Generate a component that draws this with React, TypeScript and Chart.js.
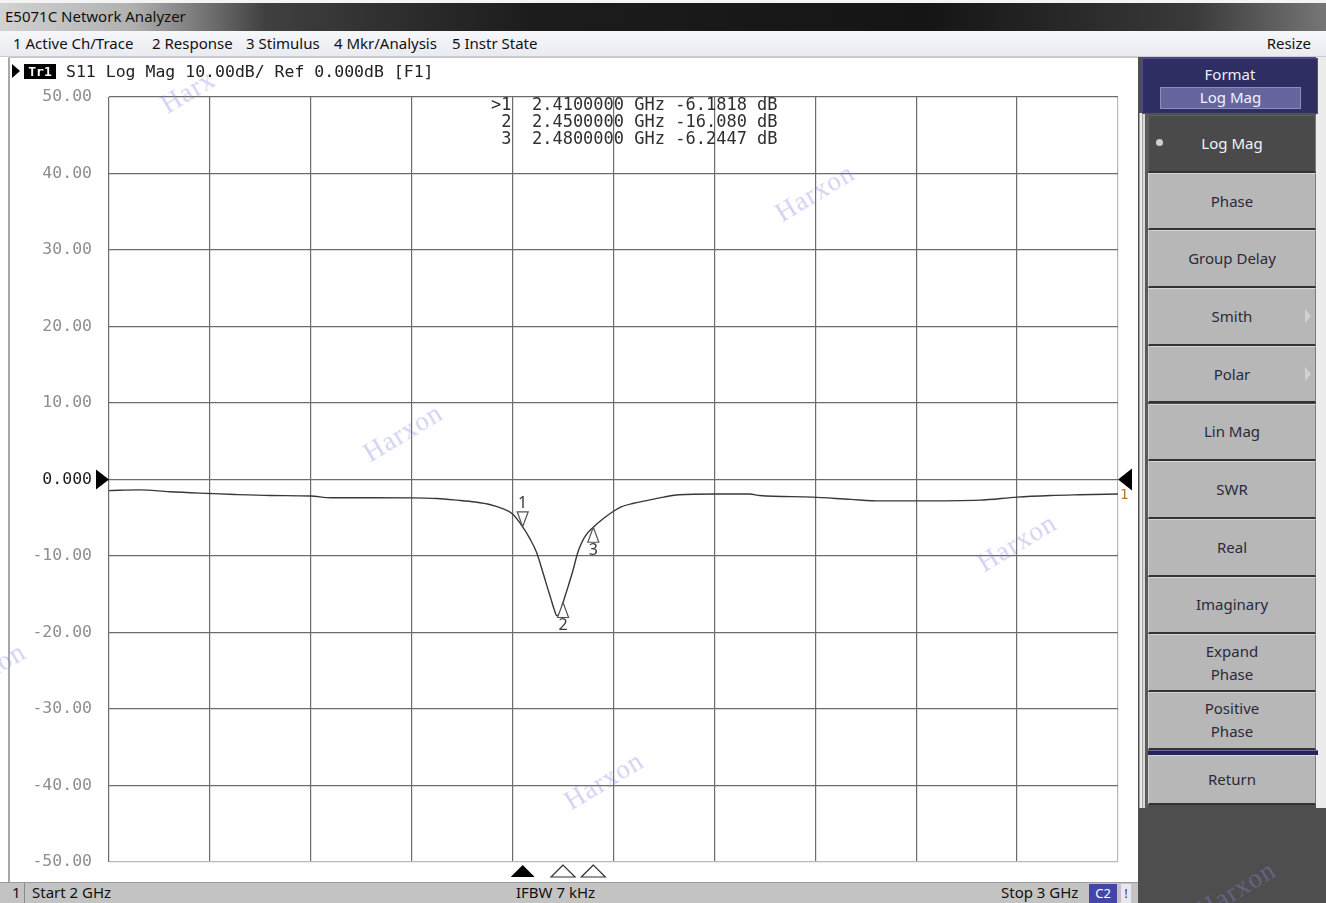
import React, { useEffect, useRef } from "react";
import { Chart, registerables } from "chart.js";

Chart.register(...registerables);

// ---- data ----
const freqGHz = [
  2.0, 2.01, 2.03, 2.06, 2.1, 2.125, 2.16, 2.2, 2.22, 2.26, 2.3, 2.325, 2.345, 2.363, 2.378, 2.39, 2.4,
  2.41, 2.417, 2.424, 2.429, 2.434, 2.438, 2.441, 2.444, 2.447, 2.45, 2.455, 2.46, 2.464, 2.467, 2.472,
  2.48, 2.49, 2.5, 2.507, 2.52, 2.535, 2.55, 2.565, 2.6, 2.635, 2.645, 2.697, 2.735, 2.765, 2.8, 2.863,
  2.9, 2.933, 2.962, 3.0,
];
const s11dB = [
  -1.45, -1.4, -1.35, -1.6, -1.83, -1.96, -2.09, -2.16, -2.39, -2.39, -2.4, -2.48, -2.7, -2.95, -3.3,
  -3.8, -4.5, -6.18, -7.7, -9.6, -11.7, -13.9, -15.6, -16.9, -17.8, -17.4, -16.08, -14.0, -11.8, -9.8,
  -8.7, -7.4, -6.24, -5.1, -4.15, -3.6, -3.1, -2.7, -2.3, -2.0, -1.9, -1.9, -2.1, -2.3, -2.6, -2.8,
  -2.8, -2.7, -2.3, -2.1, -2.0, -1.9,
];
const yMin = -50;
const yMax = 50;
const yStep = 10;
const startGHz = 2;
const stopGHz = 3;
const xStep = 0.1;

const markerNumbers = [1, 2, 3];
const markerFreqGHz = [2.41, 2.45, 2.48];
const markerValueDb = [-6.1818, -16.08, -6.2447];
const markerValueText = ["-6.1818", "-16.080", "-6.2447"];
const activeMarker = 1;

const menuItems = ["1 Active Ch/Trace", "2 Response", "3 Stimulus", "4 Mkr/Analysis", "5 Instr State"];
const softkeys = [
  "Log Mag", "Phase", "Group Delay", "Smith", "Polar", "Lin Mag", "SWR", "Real", "Imaginary",
  "Expand\nPhase", "Positive\nPhase", "Return",
];
const softkeysWithArrow = ["Smith", "Polar"];
const selectedSoftkey = "Log Mag";

// layout constants (pixels)
const MENU_LEFT = [13, 152, 246, 334, 452];

const MONO = "'DejaVu Sans Mono', 'Liberation Mono', monospace";
const SANS = "'Noto Sans', 'DejaVu Sans', sans-serif";

const overlayPlugin = {
  id: "vnaOverlay",
  afterDatasetsDraw(chart: any) {
    const { ctx, chartArea: a, scales } = chart;
    const x = scales.x;
    const y = scales.y;
    ctx.save();

    // reference level triangles
    const y0 = y.getPixelForValue(0);
    ctx.fillStyle = "#000";
    ctx.beginPath();
    ctx.moveTo(a.left, y0);
    ctx.lineTo(a.left - 13, y0 - 10);
    ctx.lineTo(a.left - 13, y0 + 10);
    ctx.closePath();
    ctx.fill();
    ctx.beginPath();
    ctx.moveTo(a.right, y0);
    ctx.lineTo(a.right + 14, y0 - 11);
    ctx.lineTo(a.right + 14, y0 + 11);
    ctx.closePath();
    ctx.fill();

    // trace number at the end of the trace
    ctx.fillStyle = "#b8742e";
    ctx.font = `14px ${MONO}`;
    ctx.textAlign = "left";
    ctx.textBaseline = "middle";
    ctx.fillText("1", a.right + 2, y.getPixelForValue(s11dB[s11dB.length - 1]) + 1);

    markerFreqGHz.forEach((f, i) => {
      const px = x.getPixelForValue(f);
      const py = y.getPixelForValue(markerValueDb[i]);
      const dir = i === 0 ? -1 : 1;
      // marker on the trace
      ctx.beginPath();
      ctx.moveTo(px, py);
      ctx.lineTo(px - 5.5, py + dir * 15);
      ctx.lineTo(px + 5.5, py + dir * 15);
      ctx.closePath();
      ctx.fillStyle = "#fff";
      ctx.fill();
      ctx.strokeStyle = "#555";
      ctx.lineWidth = 1.2;
      ctx.stroke();
      ctx.fillStyle = "#3a3a3a";
      ctx.font = `16px ${SANS}`;
      ctx.textAlign = "center";
      ctx.textBaseline = "middle";
      ctx.fillText(String(markerNumbers[i]), px, py + dir * 23);

      // stimulus indicator below the grid
      const by = a.bottom + 3;
      ctx.beginPath();
      ctx.moveTo(px, by);
      ctx.lineTo(px - 12, by + 12);
      ctx.lineTo(px + 12, by + 12);
      ctx.closePath();
      if (markerNumbers[i] === activeMarker) {
        ctx.fillStyle = "#000";
        ctx.fill();
      } else {
        ctx.fillStyle = "#fff";
        ctx.fill();
        ctx.strokeStyle = "#333";
        ctx.lineWidth = 1.2;
        ctx.stroke();
      }

      // readout
      const line =
        `${markerNumbers[i] === activeMarker ? ">" : " "}${markerNumbers[i]}  ` +
        `${f.toFixed(7)} GHz ${markerValueText[i]} dB`;
      ctx.font = `17px ${MONO}`;
      ctx.textAlign = "left";
      ctx.fillStyle = "#2f2f2f";
      ctx.fillText(line, a.left + a.width * 0.3786, a.top + 9 + i * 17);
    });
    ctx.restore();
  },
};

function Watermark({ left, top, text = "Harxon" }: { left: number; top: number; text?: string }) {
  return (
    <span
      style={{
        position: "absolute",
        left,
        top,
        transform: "translate(-50%, -50%) rotate(-31deg)",
        font: "27px 'Liberation Serif', 'DejaVu Serif', serif",
        letterSpacing: 1,
        color: "rgba(135,135,225,0.38)",
        pointerEvents: "none",
        whiteSpace: "nowrap",
        zIndex: 5,
      }}
    >
      {text}
    </span>
  );
}

export default function App() {
  const canvasRef = useRef<HTMLCanvasElement | null>(null);

  useEffect(() => {
    if (!canvasRef.current) return;
    const chart = new Chart(canvasRef.current, {
      type: "line",
      data: {
        datasets: [
          {
            label: "S11",
            data: freqGHz.map((f, i) => ({ x: f, y: s11dB[i] })),
            borderColor: "#383838",
            borderWidth: 1.4,
            pointRadius: 0,
            cubicInterpolationMode: "monotone",
            fill: false,
          },
        ],
      },
      options: {
        responsive: false,
        animation: false,
        devicePixelRatio: 1,
        layout: { padding: { top: 39, right: 22, bottom: 20, left: 0 } },
        plugins: { legend: { display: false }, tooltip: { enabled: false } },
        scales: {
          x: {
            type: "linear",
            min: startGHz,
            max: stopGHz,
            ticks: { display: false, stepSize: xStep },
            border: { display: false },
            grid: {
              drawTicks: false,
              lineWidth: 1.2,
              color: (c: any) =>
                c.tick && Math.abs(c.tick.value - stopGHz) < 1e-6 ? "#b8b8b8" : "#6c6c6c",
            },
            afterFit: (s: any) => {
              s.height = 0;
            },
          },
          y: {
            min: yMin,
            max: yMax,
            ticks: {
              stepSize: yStep,
              padding: 0,
              font: { family: MONO, size: 16.5 },
              color: (c: any) => (c.tick && c.tick.value === 0 ? "#1c1c1c" : "#8e8e8e"),
              callback: (v: any) => (Number(v) === 0 ? "0.000" : Number(v).toFixed(2)),
            },
            border: { display: false },
            grid: {
              drawTicks: true,
              tickLength: 17,
              tickColor: "rgba(0,0,0,0)",
              lineWidth: 1.2,
              color: (c: any) => (c.tick && c.tick.value === yMin ? "#b8b8b8" : "#6c6c6c"),
            },
            afterFit: (s: any) => {
              s.width = 99;
            },
          },
        },
      },
      plugins: [overlayPlugin],
    } as any);
    return () => chart.destroy();
  }, []);

  const btnTop = 115;
  const btnH = 57.7;

  return (
    <div
      style={{
        position: "fixed",
        left: 0,
        top: 0,
        width: 1326,
        height: 903,
        overflow: "hidden",
        background: "#fff",
        fontFamily: SANS,
      }}
    >
      {/* title bar */}
      <div
        style={{
          position: "absolute",
          left: 0,
          top: 0,
          width: 1326,
          height: 31,
          background:
            "linear-gradient(to right, #d2d2d2 0%, #b0b0b0 10%, #404040 20%, #1c1c1c 40%, #151515 70%, #3a3a3a 90%, #767676 100%)",
          borderTop: "3px solid #f4f4f4",
          boxSizing: "border-box",
        }}
      >
        <span style={{ position: "absolute", left: 5, top: 3, fontSize: 15, color: "#111" }}>
          E5071C Network Analyzer
        </span>
      </div>

      {/* menu bar */}
      <div
        style={{
          position: "absolute",
          left: 0,
          top: 31,
          width: 1326,
          height: 26,
          background: "linear-gradient(#f6f7fa, #e9ebf1)",
          borderBottom: "1px solid #c9ccd4",
          boxSizing: "border-box",
          fontSize: 15,
          color: "#111",
        }}
      >
        {menuItems.map((m, i) => (
          <span key={m} style={{ position: "absolute", left: MENU_LEFT[i], top: 2, whiteSpace: "nowrap" }}>
            {m}
          </span>
        ))}
        <span style={{ position: "absolute", right: 15, top: 2 }}>Resize</span>
      </div>

      {/* white display area */}
      <div style={{ position: "absolute", left: 0, top: 57, width: 1140, height: 825, background: "#fff" }} />
      <div style={{ position: "absolute", left: 8, top: 57, width: 2, height: 825, background: "#a8a8a8" }} />
      <div style={{ position: "absolute", left: 8, top: 57, width: 1132, height: 1, background: "#c4c4c4" }} />

      <canvas
        ref={canvasRef}
        width={1130}
        height={824}
        style={{ position: "absolute", left: 10, top: 58, width: 1130, height: 824 }}
      />

      {/* trace header */}
      <div style={{ position: "absolute", left: 12, top: 62, height: 18, display: "flex", alignItems: "center", zIndex: 4 }}>
        <span
          style={{
            width: 0,
            height: 0,
            borderTop: "7px solid transparent",
            borderBottom: "7px solid transparent",
            borderLeft: "8px solid #000",
            marginRight: 4,
          }}
        />
        <span
          style={{
            background: "#000",
            color: "#fff",
            font: `bold 13px ${MONO}`,
            padding: "0 3px",
            height: 15,
            lineHeight: "15px",
            width: 26,
            textAlign: "center",
          }}
        >
          Tr1
        </span>
        <span style={{ font: `16.5px ${MONO}`, color: "#222", marginLeft: 10, whiteSpace: "pre" }}>
          S11 Log Mag 10.00dB/ Ref 0.000dB [F1]
        </span>
      </div>

      {/* status bar */}
      <div
        style={{
          position: "absolute",
          left: 0,
          top: 882,
          width: 1140,
          height: 21,
          background: "#c3c3c3",
          borderTop: "1px solid #9a9a9a",
          boxSizing: "border-box",
          fontSize: 15,
          color: "#111",
        }}
      >
        <span style={{ position: "absolute", left: 12, top: -1 }}>1</span>
        <div style={{ position: "absolute", left: 24, top: 0, width: 1, height: 20, background: "#8a8a8a" }} />
        <span style={{ position: "absolute", left: 32, top: -1, whiteSpace: "nowrap" }}>Start 2 GHz</span>
        <span style={{ position: "absolute", left: 516, top: -1, whiteSpace: "nowrap" }}>IFBW 7 kHz</span>
        <span style={{ position: "absolute", left: 1001, top: -1, whiteSpace: "nowrap" }}>Stop 3 GHz</span>
        <span
          style={{
            position: "absolute",
            left: 1089,
            top: 1,
            width: 28,
            height: 19,
            background: "#4545a6",
            color: "#fff",
            textAlign: "center",
            lineHeight: "19px",
            fontSize: 13,
          }}
        >
          C2
        </span>
        <span
          style={{
            position: "absolute",
            left: 1121,
            top: 1,
            width: 10,
            height: 19,
            background: "#e8e8ee",
            color: "#4a2a8a",
            textAlign: "center",
            lineHeight: "19px",
            fontSize: 13,
          }}
        >
          !
        </span>
      </div>

      {/* right softkey panel */}
      <div style={{ position: "absolute", left: 1138, top: 57, width: 188, height: 846, background: "#4e4e4e" }} />
      <div style={{ position: "absolute", left: 1316, top: 57, width: 10, height: 751, background: "#ececec" }} />
      <div
        style={{
          position: "absolute",
          left: 1139,
          top: 113,
          width: 9,
          height: 695,
          background:
            "linear-gradient(to right, #9c9c9c 0 1px, #ececec 1px 3px, #a2a2a2 3px 4px, #dadada 4px 6px, #5a5a5a 6px 9px)",
        }}
      />
      <div
        style={{
          position: "absolute",
          left: 1142,
          top: 58,
          width: 176,
          height: 56,
          background: "#2e2e63",
          border: "1px solid #4b4b86",
          boxSizing: "border-box",
        }}
      >
        <div style={{ position: "absolute", left: 0, right: 0, top: 5, textAlign: "center", color: "#ececf4", fontSize: 15 }}>
          Format
        </div>
        <div
          style={{
            position: "absolute",
            left: 17,
            top: 28,
            width: 141,
            height: 22,
            background: "#66669f",
            border: "1px solid #8d8dc4",
            boxSizing: "border-box",
            textAlign: "center",
            color: "#f2f2ff",
            fontSize: 15,
            lineHeight: "19px",
          }}
        >
          Log Mag
        </div>
      </div>
      {softkeys.map((k, i) => {
        const sel = k === selectedSoftkey;
        const isReturn = k === "Return";
        const top = btnTop + i * btnH;
        return (
          <div
            key={k}
            style={{
              position: "absolute",
              left: 1148,
              top: isReturn ? top + 5 : top,
              width: 168,
              height: isReturn ? btnH - 7 : btnH,
              background: sel ? "#4a4a4a" : "#b7b7b7",
              borderTop: sel ? "1px solid #5e5e5e" : "1px solid #d6d6d6",
              borderLeft: sel ? "1px solid #5e5e5e" : "1px solid #d2d2d2",
              borderRight: "1px solid #7a7a7a",
              borderBottom: "2px solid #333",
              boxSizing: "border-box",
              display: "flex",
              alignItems: "center",
              justifyContent: "center",
              textAlign: "center",
              whiteSpace: "pre-line",
              fontSize: 15,
              lineHeight: "23px",
              color: sel ? "#f2f2f2" : "#2a2a3a",
              zIndex: 2,
            }}
          >
            {sel && (
              <span
                style={{
                  position: "absolute",
                  left: 7,
                  top: "50%",
                  width: 7,
                  height: 7,
                  marginTop: -4,
                  borderRadius: "50%",
                  background: "#cfcfcf",
                }}
              />
            )}
            {softkeysWithArrow.includes(k) && (
              <span
                style={{
                  position: "absolute",
                  right: 4,
                  top: "50%",
                  marginTop: -7,
                  width: 0,
                  height: 0,
                  borderTop: "7px solid transparent",
                  borderBottom: "7px solid transparent",
                  borderLeft: "6px solid #d2d2d2",
                }}
              />
            )}
            {k}
          </div>
        );
      })}
      <div
        style={{
          position: "absolute",
          left: 1148,
          top: btnTop + 11 * btnH,
          width: 170,
          height: 5,
          background: "#24245a",
          borderTop: "1px solid #6a6aa0",
          boxSizing: "border-box",
          zIndex: 2,
        }}
      />

      {/* watermarks */}
      <Watermark left={188} top={92} text="Harx" />
      <Watermark left={815} top={193} />
      <Watermark left={403} top={433} />
      <Watermark left={1017} top={543} />
      <Watermark left={604} top={781} />
      <Watermark left={-14} top={672} />
      <Watermark left={1236} top={890} />
    </div>
  );
}
